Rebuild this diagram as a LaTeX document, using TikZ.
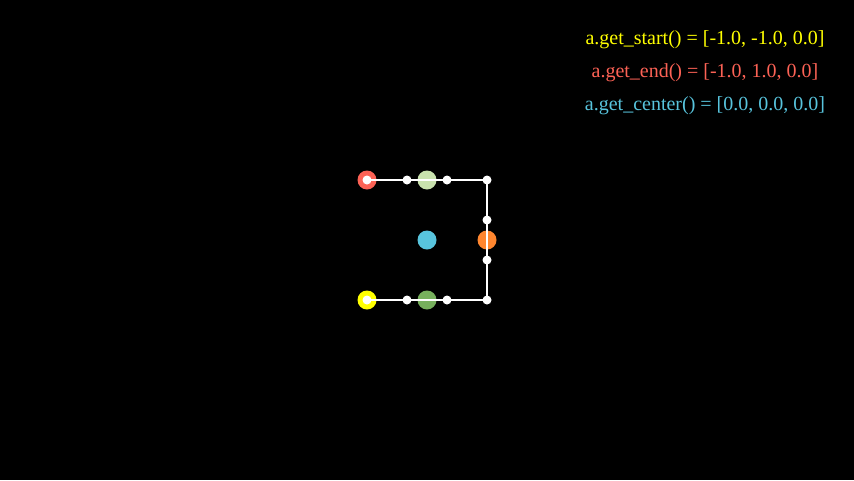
\documentclass[tikz,border=0pt]{standalone}
\usepackage{fontspec}
\setmainfont{Liberation Serif}
\definecolor{myyellow}{HTML}{FFFF00}
\definecolor{myred}{HTML}{FC6255}
\definecolor{myblue}{HTML}{58C4DD}
\definecolor{mygreenA}{HTML}{C9E2AE}
\definecolor{mygreenD}{HTML}{77B05D}
\definecolor{myorange}{HTML}{FF862F}
\begin{document}
\begin{tikzpicture}[x=1pt,y=-1pt,
  bigdot/.style={circle,inner sep=0pt,minimum size=19pt,fill=#1},
  smalldot/.style={circle,inner sep=0pt,minimum size=9pt,fill=white},
  path line/.style={draw=white,line width=2pt},
  label text/.style={font=\fontsize{20}{24}\selectfont,text=#1,inner sep=0pt,anchor=center}]
\fill[black] (0,0) rectangle (854,480);
\useasboundingbox (0,0) rectangle (854,480);
% coloured markers
\node[bigdot=myyellow] (start) at (367,300) {};
\node[bigdot=myred] (end) at (367,180) {};
\node[bigdot=myblue] (center) at (427,240) {};
\node[bigdot=mygreenA] (topmid) at (427,180) {};
\node[bigdot=mygreenD] (botmid) at (427,300) {};
\node[bigdot=myorange] (rightmid) at (487,240) {};
% path anchors
\coordinate (p0) at (367,300);
\coordinate (p1) at (407,300);
\coordinate (p2) at (447,300);
\coordinate (p3) at (487,300);
\coordinate (p4) at (487,260);
\coordinate (p5) at (487,220);
\coordinate (p6) at (487,180);
\coordinate (p7) at (447,180);
\coordinate (p8) at (407,180);
\coordinate (p9) at (367,180);
\draw[path line] (p0) -- (p3) -- (p6) -- (p9);
\foreach \i in {0,...,9} \node[smalldot] (d\i) at (p\i) {};
% labels
\node[label text=myyellow] (t1) at (705,40) {a.get\_start() = [-1.0, -1.0, 0.0]};
\node[label text=myred] (t2) at (705,73) {a.get\_end() = [-1.0, 1.0, 0.0]};
\node[label text=myblue] (t3) at (705,106) {a.get\_center() = [0.0, 0.0, 0.0]};
\end{tikzpicture}
\end{document}
